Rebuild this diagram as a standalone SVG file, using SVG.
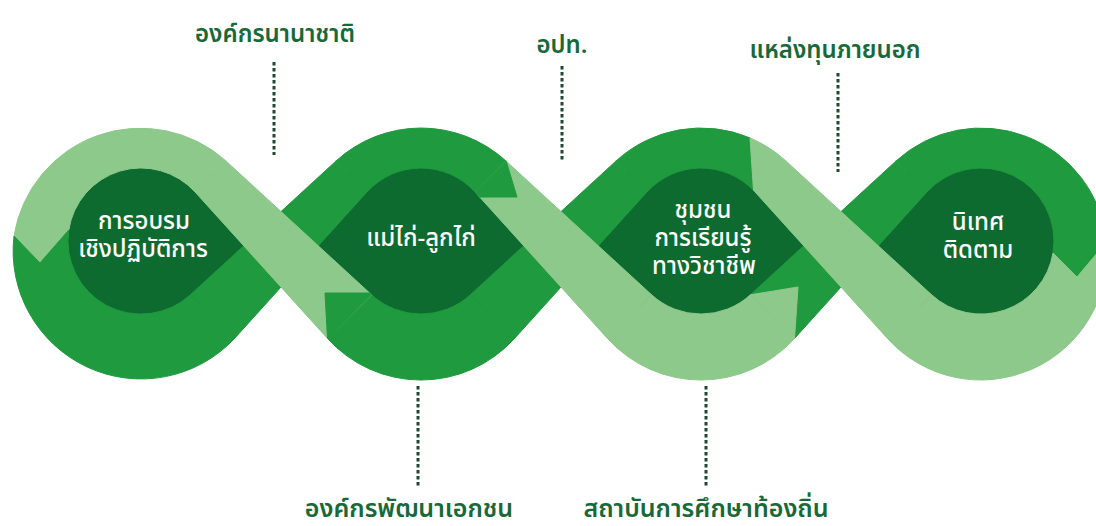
<svg xmlns="http://www.w3.org/2000/svg" width="1096" height="526" viewBox="0 0 1096 526">
<defs>
<style>
.light{fill:#8dc98b;stroke:#8dc98b;stroke-width:1}
.mid{fill:#1f9a3f;stroke:#1f9a3f;stroke-width:1}
.dark{fill:#0e6b2f}
.nt{font-family:"Noto Sans Thai","Noto Sans Thai UI","Loma","Garuda","Noto Sans",sans-serif;font-size:24px;fill:#ffffff;text-anchor:middle;font-weight:500}
.lab{font-family:"Noto Sans Thai","Noto Sans Thai UI","Loma","Garuda","Noto Sans",sans-serif;font-size:24px;fill:#17693a;text-anchor:middle;font-weight:600}
.dot{stroke:#1d4a30;stroke-width:3;stroke-dasharray:3.5 2.5;fill:none}
</style>
</defs>
<rect width="1096" height="526" fill="#ffffff"/>

<g id="node-training">
<circle class="dark" cx="141" cy="245" r="103"/>
<text class="nt" x="144" y="229">การอบรม</text>
<text class="nt" x="143" y="257">เชิงปฏิบัติการ</text>
</g>
<g id="node-mentor">
<circle class="dark" cx="421" cy="245" r="103"/>
<text class="nt" x="421" y="246">แม่ไก่-ลูกไก่</text>
</g>
<g id="node-community">
<circle class="dark" cx="701" cy="245" r="103"/>
<text class="nt" x="703" y="218">ชุมชน</text>
<text class="nt" x="703" y="246">การเรียนรู้</text>
<text class="nt" x="704" y="274">ทางวิชาชีพ</text>
</g>
<g id="node-followup">
<circle class="dark" cx="981" cy="245" r="103"/>
<text class="nt" x="978" y="230">นิเทศ</text>
<text class="nt" x="978" y="258">ติดตาม</text>
</g>

<g id="ribbon">
<!-- rising diagonals (under) -->
<path class="mid" d="M190.4,294.8 L335.8,161.2 L366.9,192 L234.5,338.5 Z"/>
<path class="mid" d="M470.4,294.8 L615.8,161.2 L646.9,192 L514.5,338.5 Z"/>
<path class="mid" d="M750.4,294.8 L895.8,161.2 L926.9,192 L794.5,338.5 Z"/>
<!-- arcs -->
<path class="light" d="M14,236 A128,128 0 0 1 226.2,161.2 L195.1,192 A73,73 0 0 0 68.8,230 L40,263 Z"/>
<path class="mid" d="M14,236 A128,128 0 0 0 234.5,338.5 L190.4,294.8 A73,73 0 0 1 68.8,230 L40,263 Z"/>
<path class="mid" d="M335.8,161.2 A126,126 0 0 1 506.2,161.2 L475.1,192 A73,73 0 0 0 366.9,192 Z"/>
<path class="mid" d="M327.5,338.5 A126,126 0 0 0 514.5,338.5 L470.4,294.8 A73,73 0 0 1 371.6,294.8 Z"/>
<path class="mid" d="M615.8,161.2 A126,126 0 0 1 750,137.9 L753.5,190.3 A73,73 0 0 0 646.9,192 Z"/>
<path class="light" d="M750,137.9 A126,126 0 0 1 786.2,161.2 L755.1,192 A73,73 0 0 0 753.5,190.3 Z"/>
<path class="light" d="M607.5,338.5 A126,126 0 0 0 794.5,338.5 L750.4,294.8 A73,73 0 0 1 651.6,294.8 Z"/>
<path class="mid" d="M895.8,161.2 A126,126 0 0 1 1106.4,242 L1077,277 L1053,253 A73,73 0 0 0 926.9,192 Z"/>
<path class="light" d="M887.5,338.5 A126,126 0 0 0 1106.4,242 L1077,277 L1053,253 A73,73 0 0 1 931.6,294.8 Z"/>
<!-- descending diagonals (over) -->
<path class="light" d="M226.2,161.2 L371.6,294.8 L327.5,338.5 L195.1,192 Z"/>
<path class="light" d="M506.2,161.2 L651.6,294.8 L607.5,338.5 L475.1,192 Z"/>
<path class="light" d="M786.2,161.2 L931.6,294.8 L887.5,338.5 L755.1,192 Z"/>
<!-- arrow joints -->
<path class="mid" d="M325,293 L369.6,293 L371.6,294.8 L327.5,338.5 Z"/>
<path class="mid" d="M506.2,161.2 L517,197 L479.6,197 L475.1,192 Z"/>
<path class="light" d="M750.4,294.8 L798,287 L794.5,338.5 Z"/>
</g>

<g id="connectors">
<line class="dot" x1="274" y1="62" x2="274" y2="155"/>
<line class="dot" x1="562" y1="66" x2="562" y2="162"/>
<line class="dot" x1="838" y1="73" x2="838" y2="172"/>
<line class="dot" x1="418" y1="386" x2="418" y2="487"/>
<line class="dot" x1="706" y1="386" x2="706" y2="487"/>
</g>

<g id="label-intl"><text class="lab" x="275" y="42">องค์กรนานาชาติ</text></g>
<g id="label-lao"><text class="lab" x="562" y="53">อปท.</text></g>
<g id="label-funds"><text class="lab" x="835" y="58">แหล่งทุนภายนอก</text></g>
<g id="label-ngo"><text class="lab" x="409" y="517" style="font-size:25px">องค์กรพัฒนาเอกชน</text></g>
<g id="label-edu"><text class="lab" x="706" y="517" style="font-size:25px">สถาบันการศึกษาท้องถิ่น</text></g>
</svg>
